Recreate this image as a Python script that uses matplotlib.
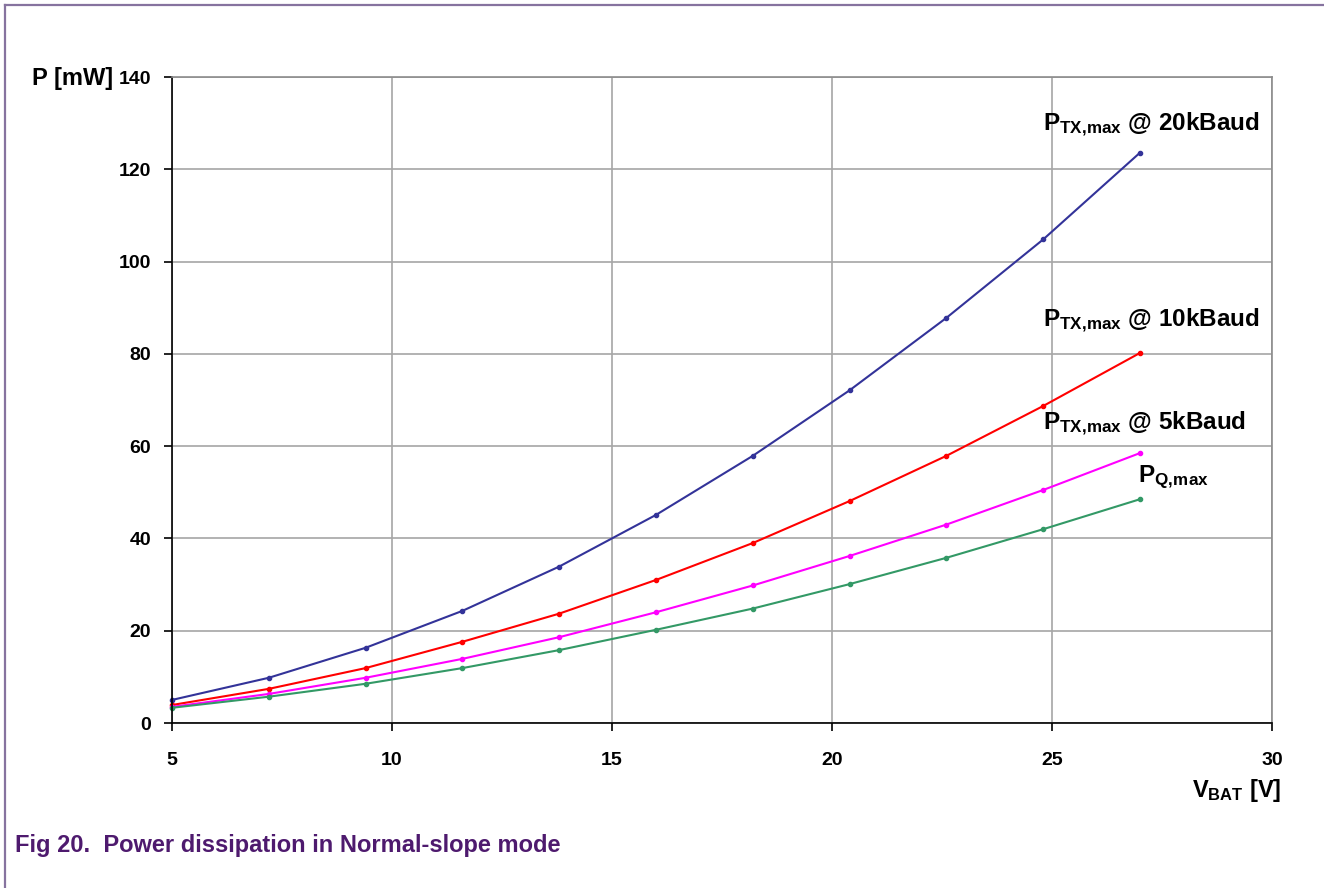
import matplotlib
matplotlib.use("Agg")
import matplotlib.pyplot as plt
from matplotlib.lines import Line2D

# ---- data ----
vbat = [5.0, 7.2, 9.4, 11.6, 13.8, 16.0, 18.2, 20.4, 22.6, 24.8, 27.0]
p_tx_20k = [5.0, 9.8, 16.3, 24.3, 33.9, 45.1, 57.9, 72.1, 87.8, 104.8, 123.6]
p_tx_10k = [3.9, 7.4, 11.9, 17.6, 23.7, 31.0, 39.0, 48.1, 57.9, 68.7, 80.2]
p_tx_5k = [3.5, 6.3, 9.8, 13.9, 18.6, 24.0, 29.8, 36.2, 43.0, 50.5, 58.5]
p_q_max = [3.3, 5.7, 8.5, 11.9, 15.8, 20.2, 24.8, 30.1, 35.8, 42.0, 48.5]
x_ticks = [5, 10, 15, 20, 25, 30]
y_ticks = [0, 20, 40, 60, 80, 100, 120, 140]

FONT = ['Liberation Sans', 'DejaVu Sans']
plt.rcParams['font.family'] = FONT
plt.rcParams['font.weight'] = 'bold'
plt.rcParams['mathtext.fontset'] = 'custom'
plt.rcParams['mathtext.bf'] = 'Liberation Sans:bold'
plt.rcParams['mathtext.rm'] = 'Liberation Sans:bold'

W, H = 1324, 888
fig = plt.figure(figsize=(W / 100, H / 100), dpi=100)

# frame lines (top and left)
fig.add_artist(Line2D([5 / W, 5 / W], [0, 1 - 5 / H], color='#86739f', lw=1.6))
fig.add_artist(Line2D([5 / W, 1], [1 - 5 / H, 1 - 5 / H], color='#86739f', lw=1.6))

ax = fig.add_axes([172 / W, (H - 723) / H, 1100 / W, 646 / H])
ax.set_xlim(5, 30)
ax.set_ylim(0, 140)
ax.set_xticks(x_ticks)
ax.set_yticks(y_ticks)
ax.grid(True, color='#a6a6a6', lw=1.2)
ax.set_axisbelow(True)
for s in ['top', 'right']:
    ax.spines[s].set_color('#8c8c8c')
    ax.spines[s].set_linewidth(1.2)
for s in ['left', 'bottom']:
    ax.spines[s].set_color('black')
    ax.spines[s].set_linewidth(1.2)
ax.tick_params(axis='both', direction='out', length=6, width=1.2, labelsize=14)
ax.tick_params(axis='y', pad=9)
ax.tick_params(axis='x', pad=15)
for lab in ax.get_xticklabels() + ax.get_yticklabels():
    lab.set_fontweight('bold')

series = [
    (p_tx_20k, '#333399'),
    (p_tx_10k, '#ff0000'),
    (p_tx_5k, '#ff00ff'),
    (p_q_max, '#339966'),
]
for vals, col in series:
    ax.plot(vbat, vals, color=col, lw=1.5, marker='o', ms=3, clip_on=False)

lab_kw = dict(fontsize=17.5, fontweight='bold', va='baseline', ha='left')
ax.text(24.8, 128.4, r'$\mathbf{P_{TX,\!max}}$ @ 20kBaud', **lab_kw)
ax.text(24.8, 85.8, r'$\mathbf{P_{TX,\!max}}$ @ 10kBaud', **lab_kw)
ax.text(24.8, 63.5, r'$\mathbf{P_{TX,\!max}}$ @ 5kBaud', **lab_kw)
ax.text(26.95, 52.3, r'$\mathbf{P_{Q,\!max}}$', **lab_kw)

fig.text(32 / W, 1 - 85 / H, 'P [mW]', fontsize=17, fontweight='bold',
         ha='left', va='baseline')
fig.text(1281 / W, 1 - 797 / H, r'$\mathbf{V_{BAT}}$ [V]', fontsize=17,
         fontweight='bold', ha='right', va='baseline')
fig.text(15 / W, 1 - 852 / H, 'Fig 20.  Power dissipation in Normal-slope mode',
         fontsize=17, fontweight='bold', color='#4e1a6e', ha='left',
         va='baseline')

fig.savefig('out.png', dpi=100)
